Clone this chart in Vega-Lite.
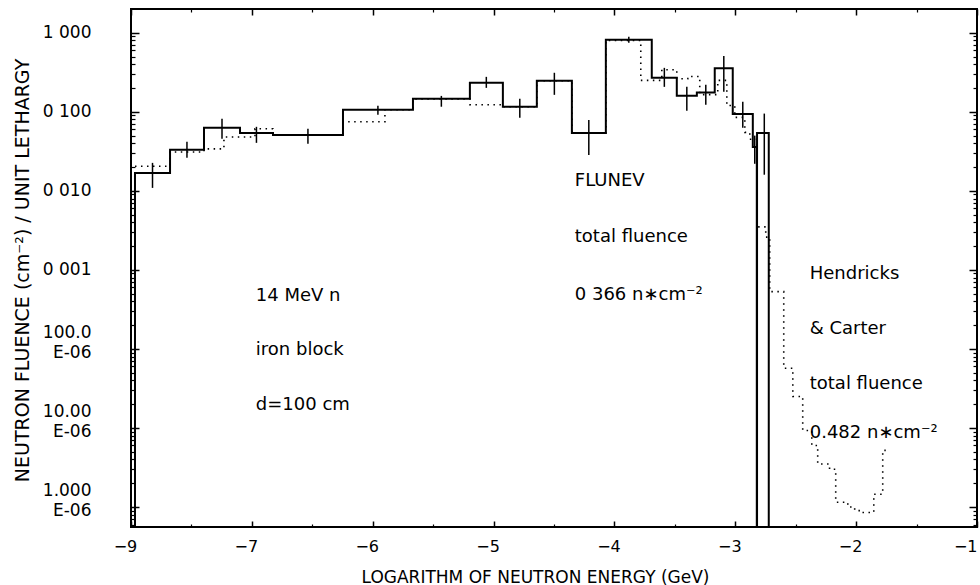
{
  "$schema": "https://vega.github.io/schema/vega-lite/v6.json",
  "width": 846,
  "height": 518,
  "autosize": {"type": "none"},
  "padding": {"left": 131, "top": 9, "right": 3, "bottom": 58},
  "background": "white",
  "config": {
    "view": {"stroke": "black", "strokeWidth": 2},
    "font": "DejaVu Sans",
    "axis": {
      "grid": false,
      "domain": false,
      "tickColor": "black",
      "labelColor": "black",
      "titleColor": "black",
      "labelFont": "DejaVu Sans",
      "titleFont": "DejaVu Sans",
      "titleFontWeight": "normal"
    }
  },
  "datasets": {
    "flunev": [
      {"e": -8.0, "f": 1e-9},
      {"e": -7.967, "f": 0.0168, "c": -7.822, "lo": 0.0109, "hi": 0.0226},
      {"e": -7.677, "f": 0.033, "c": -7.537, "lo": 0.0263, "hi": 0.0418},
      {"e": -7.396, "f": 0.0627, "c": -7.247, "lo": 0.0455, "hi": 0.0817},
      {"e": -7.098, "f": 0.054, "c": -6.962, "lo": 0.0405, "hi": 0.0646},
      {"e": -6.825, "f": 0.051, "c": -6.536, "lo": 0.0395, "hi": 0.0609},
      {"e": -6.246, "f": 0.106, "c": -5.957, "lo": 0.0916, "hi": 0.119},
      {"e": -5.667, "f": 0.146, "c": -5.432, "lo": 0.116, "hi": 0.159},
      {"e": -5.196, "f": 0.233, "c": -5.06, "lo": 0.201, "hi": 0.277},
      {"e": -4.923, "f": 0.116, "c": -4.783, "lo": 0.084, "hi": 0.146},
      {"e": -4.642, "f": 0.247, "c": -4.497, "lo": 0.164, "hi": 0.312},
      {"e": -4.352, "f": 0.054, "c": -4.212, "lo": 0.0285, "hi": 0.079},
      {"e": -4.071, "f": 0.816, "c": -3.881, "lo": 0.747, "hi": 0.89},
      {"e": -3.691, "f": 0.269, "c": -3.587, "lo": 0.207, "hi": 0.36},
      {"e": -3.484, "f": 0.16, "c": -3.401, "lo": 0.103, "hi": 0.207},
      {"e": -3.318, "f": 0.175, "c": -3.244, "lo": 0.123, "hi": 0.22},
      {"e": -3.17, "f": 0.357, "c": -3.095, "lo": 0.179, "hi": 0.51},
      {"e": -3.021, "f": 0.094, "c": -2.938, "lo": 0.063, "hi": 0.134},
      {"e": -2.855, "f": 0.036, "c": -2.839, "lo": 0.022, "hi": 0.05},
      {"e": -2.822, "f": 1e-9},
      {"e": -2.82, "f": 0.054, "c": -2.76, "lo": 0.016, "hi": 0.095},
      {"e": -2.723, "f": 1e-9}
    ],
    "hc": [
      {"e": -7.967, "f": 0.0205},
      {"e": -7.677, "f": 0.031},
      {"e": -7.396, "f": 0.034},
      {"e": -7.231, "f": 0.048},
      {"e": -6.974, "f": 0.061},
      {"e": -6.825, "f": 0.051},
      {"e": -6.246, "f": 0.075},
      {"e": -5.899, "f": 0.106},
      {"e": -5.667, "f": 0.146},
      {"e": -5.196, "f": 0.123},
      {"e": -4.923, "f": 0.116},
      {"e": -4.642, "f": 0.247},
      {"e": -4.352, "f": 0.054},
      {"e": -4.071, "f": 0.8},
      {"e": -3.782, "f": 0.25},
      {"e": -3.608, "f": 0.34},
      {"e": -3.484, "f": 0.262},
      {"e": -3.393, "f": 0.28},
      {"e": -3.294, "f": 0.165},
      {"e": -3.145, "f": 0.25},
      {"e": -3.07, "f": 0.12},
      {"e": -3.004, "f": 0.085},
      {"e": -2.921, "f": 0.055},
      {"e": -2.88, "f": 0.045},
      {"e": -2.822, "f": 0.0035},
      {"e": -2.748, "f": 0.0026},
      {"e": -2.715, "f": 0.00053},
      {"e": -2.599, "f": 0.000057},
      {"e": -2.524, "f": 0.000025},
      {"e": -2.442, "f": 0.0000093},
      {"e": -2.367, "f": 0.000006},
      {"e": -2.318, "f": 0.0000035},
      {"e": -2.22, "f": 0.000003},
      {"e": -2.169, "f": 0.00000115},
      {"e": -2.069, "f": 0.000001},
      {"e": -2.012, "f": 0.0000009},
      {"e": -1.962, "f": 0.00000085},
      {"e": -1.854, "f": 0.00000145},
      {"e": -1.78, "f": 0.0000052},
      {"e": -1.755, "f": 0.0000052}
    ],
    "notes": [
      {"tx": -6.967, "ty": 0.000469, "label": "14 MeV n"},
      {"tx": -6.967, "ty": 0.0000971, "label": "iron block"},
      {"tx": -6.967, "ty": 0.0000196, "label": "d=100 cm"},
      {"tx": -4.328, "ty": 0.0135, "label": "FLUNEV"},
      {"tx": -4.328, "ty": 0.00262, "label": "total fluence"},
      {"tx": -4.328, "ty": 0.00048, "label": "0 366 n∗cm⁻²"},
      {"tx": -2.384, "ty": 0.00088, "label": "Hendricks"},
      {"tx": -2.384, "ty": 0.00018, "label": "& Carter"},
      {"tx": -2.384, "ty": 0.0000365, "label": "total fluence"},
      {"tx": -2.384, "ty": 0.0000087, "label": "0.482 n∗cm⁻²"}
    ]
  },
  "resolve": {"axis": {"x": "independent", "y": "independent"}},
  "layer": [
    {
      "data": {"name": "flunev"},
      "mark": {"type": "line", "interpolate": "step-after", "color": "black", "strokeWidth": 2, "clip": true},
      "encoding": {
        "x": {
          "field": "e", "type": "quantitative",
          "scale": {"domain": [-8, -1], "nice": false, "zero": false},
          "axis": {
            "orient": "bottom",
            "values": [-8, -7, -6, -5, -4, -3, -2, -1],
            "tickSize": -6, "tickWidth": 1.5,
            "labelExpr": "datum.value == -8 ? '−9' : datum.label",
            "labelFontSize": 16, "labelPadding": 17, "labelFlush": false,
            "labelAlign": {"condition": {"test": "datum.value == -1", "value": "right"}, "value": "center"},
            "labelOffset": {"condition": {"test": "datum.value == -1", "value": 0}, "value": -6},
            "title": "LOGARITHM OF NEUTRON ENERGY (GeV)",
            "titleFontSize": 17, "titleX": 404, "titleY": 50,
            "titleAlign": "center", "titleBaseline": "middle"
          }
        },
        "y": {
          "field": "f", "type": "quantitative",
          "scale": {"type": "log", "domain": [5.58e-7, 2.0], "nice": false},
          "axis": {
            "orient": "left",
            "values": [0.000001, 0.00001, 0.0001, 0.001, 0.01, 0.1, 1],
            "tickSize": -8, "tickWidth": 1.5,
            "labelExpr": "datum.value > 0.5 ? '1 000' : datum.value > 0.05 ? '0 100' : datum.value > 0.005 ? '0 010' : datum.value > 0.0005 ? '0 001' : datum.value > 0.00005 ? ['100.0', 'E-06'] : datum.value > 0.000005 ? ['10.00', 'E-06'] : ['1.000', 'E-06']",
            "labelFontSize": 17, "labelAlign": "right", "labelBaseline": "middle",
            "labelPadding": 48, "labelLineHeight": 20,
            "labelOffset": {"condition": {"test": "datum.value < 0.0005", "value": -16}, "value": 0},
            "title": "NEUTRON FLUENCE (cm⁻²) / UNIT LETHARGY",
            "titleFontSize": 19, "titleAngle": 270, "titleX": -109, "titleY": 261,
            "titleAlign": "center", "titleBaseline": "middle"
          }
        }
      }
    },
    {
      "data": {"name": "hc"},
      "mark": {"type": "line", "interpolate": "step-after", "color": "black", "strokeWidth": 1.6, "strokeDash": [1.5, 4.5], "clip": true},
      "encoding": {
        "x": {
          "field": "e", "type": "quantitative",
          "scale": {"domain": [-8, -1], "nice": false, "zero": false},
          "axis": {"orient": "top", "values": [-8, -7, -6, -5, -4, -3, -2, -1], "tickSize": -6, "tickWidth": 1.5, "labels": false, "title": null}
        },
        "y": {
          "field": "f", "type": "quantitative",
          "scale": {"type": "log", "domain": [5.58e-7, 2.0], "nice": false},
          "axis": {"orient": "right", "values": [0.000001, 0.00001, 0.0001, 0.001, 0.01, 0.1, 1], "tickSize": -8, "tickWidth": 1.5, "labels": false, "title": null}
        }
      }
    },
    {
      "data": {"name": "flunev"},
      "transform": [{"filter": "datum.c != null"}],
      "mark": {"type": "rule", "color": "black", "strokeWidth": 1.5},
      "encoding": {
        "x": {
          "field": "c", "type": "quantitative",
          "scale": {"domain": [-8, -1], "nice": false, "zero": false},
          "axis": {"orient": "bottom", "values": [-7.5, -6.5, -5.5, -4.5, -3.5, -2.5, -1.5], "tickSize": -3, "tickWidth": 1.2, "labels": false, "title": null}
        },
        "y": {
          "field": "lo", "type": "quantitative",
          "scale": {"type": "log", "domain": [5.58e-7, 2.0], "nice": false},
          "axis": {
            "orient": "left",
            "values": [6e-7, 7e-7, 8e-7, 9e-7, 2e-6, 3e-6, 4e-6, 5e-6, 6e-6, 7e-6, 8e-6, 9e-6, 2e-5, 3e-5, 4e-5, 5e-5, 6e-5, 7e-5, 8e-5, 9e-5, 0.0002, 0.0003, 0.0004, 0.0005, 0.0006, 0.0007, 0.0008, 0.0009, 0.002, 0.003, 0.004, 0.005, 0.006, 0.007, 0.008, 0.009, 0.02, 0.03, 0.04, 0.05, 0.06, 0.07, 0.08, 0.09, 0.2, 0.3, 0.4, 0.5, 0.6, 0.7, 0.8, 0.9],
            "tickSize": -4, "tickWidth": 1.2, "labels": false, "title": null
          }
        },
        "y2": {"field": "hi"}
      }
    },
    {
      "data": {"name": "notes"},
      "mark": {"type": "text", "align": "left", "baseline": "middle", "fontSize": 18, "font": "DejaVu Sans", "color": "black"},
      "encoding": {
        "x": {
          "field": "tx", "type": "quantitative",
          "scale": {"domain": [-8, -1], "nice": false, "zero": false},
          "axis": {"orient": "top", "values": [-7.5, -6.5, -5.5, -4.5, -3.5, -2.5, -1.5], "tickSize": -3, "tickWidth": 1.2, "labels": false, "title": null}
        },
        "y": {
          "field": "ty", "type": "quantitative",
          "scale": {"type": "log", "domain": [5.58e-7, 2.0], "nice": false},
          "axis": {
            "orient": "right",
            "values": [6e-7, 7e-7, 8e-7, 9e-7, 2e-6, 3e-6, 4e-6, 5e-6, 6e-6, 7e-6, 8e-6, 9e-6, 2e-5, 3e-5, 4e-5, 5e-5, 6e-5, 7e-5, 8e-5, 9e-5, 0.0002, 0.0003, 0.0004, 0.0005, 0.0006, 0.0007, 0.0008, 0.0009, 0.002, 0.003, 0.004, 0.005, 0.006, 0.007, 0.008, 0.009, 0.02, 0.03, 0.04, 0.05, 0.06, 0.07, 0.08, 0.09, 0.2, 0.3, 0.4, 0.5, 0.6, 0.7, 0.8, 0.9],
            "tickSize": -4, "tickWidth": 1.2, "labels": false, "title": null
          }
        },
        "text": {"field": "label"}
      }
    }
  ]
}
